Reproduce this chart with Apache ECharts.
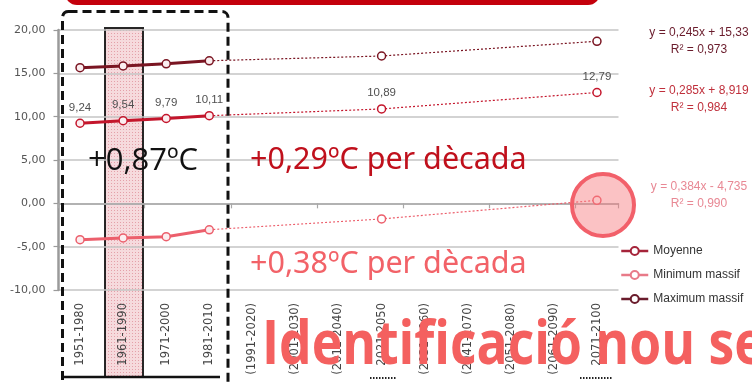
<!DOCTYPE html>
<html>
<head>
<meta charset="utf-8">
<script src="https://cdn.jsdelivr.net/npm/echarts@6/dist/echarts.min.js"></script>
<style>
  html, body { margin: 0; padding: 0; background: #ffffff; }
  #chart { width: 752px; height: 383px; }
</style>
</head>
<body>
<div id="chart"></div>
<script>
// Periods (30-year windows)
const periods = ['1951-1980', '1961-1990', '1971-2000', '1981-2010', '(1991-2020)', '(2001-2030)',
  '(2011-2040)', '2021-2050', '(2031-2060)', '(2041-2070)', '(2051-2080)', '(2061-2090)', '2071-2100'];

// Observed values (first four windows)
const moyenneObs = [9.24, 9.54, 9.79, 10.11];
const minimumObs = [-4.2, -4.0, -3.85, -3.05];
const maximumObs = [15.65, 15.85, 16.1, 16.45];

// Projected values: [index of period, value]
const moyenneProj = [[7, 10.89], [12, 12.79]];
const minimumProj = [[7, -1.8], [12, 0.35]];
const maximumProj = [[7, 17.0], [12, 18.7]];

// Y axis ticks
const yMin = -10, yMax = 20, yStep = 5;

// Trend equations
const equations = [
  ['y = 0,245x + 15,33', 'R² = 0,973'],
  ['y = 0,285x + 8,919', 'R² = 0,984'],
  ['y = 0,384x - 4,735', 'R² = 0,990']
];

const C_MAX = '#7a1522', C_MOY = '#c4162c', C_MIN = '#ec5f6c';
const LEG_MAX = '#6a1c2c', LEG_MOY = '#a5243a', LEG_MIN = '#e87a88';

function fullRow(obs) {
  return periods.map((p, i) => (i < obs.length ? obs[i] : null));
}
function projRow(obs, proj) {
  const row = periods.map(() => null);
  row[obs.length - 1] = obs[obs.length - 1];
  proj.forEach(([i, v]) => { row[i] = v; });
  return row;
}
const fmt = v => v.toFixed(2).replace('.', ',');

function dotPattern() {
  const c = document.createElement('canvas');
  c.width = 3; c.height = 3;
  const g = c.getContext('2d');
  g.fillStyle = 'rgba(246,214,218,1)';
  g.fillRect(0, 0, 3, 3);
  g.fillStyle = 'rgba(226,150,160,1)';
  g.fillRect(0, 0, 1, 1);
  return c;
}

const labelStyle = {
  show: true, position: 'top', distance: 5, color: '#505050',
  fontFamily: 'Liberation Sans', fontSize: 11.5
};

function solidSeries(name, color, obs, withLabels) {
  return {
    name, type: 'line', xAxisIndex: 0, data: fullRow(obs),
    symbol: 'circle', symbolSize: 8, z: 4,
    lineStyle: { color, width: 3 },
    itemStyle: { color: '#fbeef0', borderColor: color, borderWidth: 1.5 },
    label: withLabels ? Object.assign({}, labelStyle, { formatter: p => fmt(p.value) }) : { show: false },
    emphasis: { disabled: true }, animation: false
  };
}
function projSeries(name, color, obs, proj, withLabels) {
  const shown = new Set(proj.map(d => d[0]));
  return {
    name, type: 'line', xAxisIndex: 0, data: projRow(obs, proj), connectNulls: true,
    symbol: 'circle', symbolSize: 8, z: 3,
    showAllSymbol: true,
    lineStyle: { color, width: 1.2, type: [2, 2] },
    itemStyle: { color: '#ffffff', borderColor: color, borderWidth: 1.5 },
    label: withLabels ? Object.assign({}, labelStyle,
      { formatter: p => (shown.has(p.dataIndex) ? fmt(p.value) : '') }) : { show: false },
    emphasis: { disabled: true }, animation: false
  };
}

const chart = echarts.init(document.getElementById('chart'), null, { renderer: 'canvas' });

const series = [
  solidSeries('Moyenne', C_MOY, moyenneObs, true),
  solidSeries('Minimum massif', C_MIN, minimumObs, false),
  solidSeries('Maximum massif', C_MAX, maximumObs, false),
  projSeries('Moyenne', C_MOY, moyenneObs, moyenneProj, true),
  projSeries('Minimum massif', C_MIN, minimumObs, minimumProj, false),
  projSeries('Maximum massif', C_MAX, maximumObs, maximumProj, false)
];
// hide the repeated marker at the junction of solid and dotted parts
series.slice(3).forEach(s => {
  s.data = s.data.map((v, i) => (v === null ? null :
    (i === 3 ? { value: v, symbolSize: 0, label: { show: false } } : v)));
});

const eqColors = [LEG_MAX, '#c0303c', '#e88894'];
const eqY = [27, 85, 181];
const eqGraphics = [];
equations.forEach((eq, k) => {
  eq.forEach((line, j) => {
    eqGraphics.push({
      type: 'text', z: 20,
      style: {
        x: 699, y: eqY[k] + j * 17, text: line, align: 'center',
        fill: eqColors[k], font: '12px "Liberation Sans"'
      }
    });
  });
});

chart.setOption({
  animation: false,
  grid: { left: 58.5, right: 133.5, top: 30, bottom: 93, containLabel: false },
  legend: {
    orient: 'vertical', left: 615, top: 240, itemGap: 12,
    itemWidth: 27, itemHeight: 10,
    data: [
      { name: 'Moyenne', itemStyle: { color: '#fff', borderColor: LEG_MOY }, lineStyle: { color: LEG_MOY, width: 2.5 } },
      { name: 'Minimum massif', itemStyle: { color: '#fff', borderColor: LEG_MIN }, lineStyle: { color: LEG_MIN, width: 2.5 } },
      { name: 'Maximum massif', itemStyle: { color: '#fff', borderColor: LEG_MAX }, lineStyle: { color: LEG_MAX, width: 2.5 } }
    ],
    textStyle: { color: '#333', fontFamily: 'Liberation Sans', fontSize: 12 },
    selectedMode: false
  },
  xAxis: [
    {
      type: 'category', data: periods, position: 'bottom',
      axisLine: { show: false, onZero: false },
      axisTick: { show: false },
      axisLabel: { rotate: 90, margin: 13, color: '#454545', fontFamily: 'DejaVu Sans', fontSize: 11.5, interval: 0 }
    },
    {
      type: 'category', data: periods, position: 'bottom',
      axisLine: { show: true, onZero: true, lineStyle: { color: '#a8a8a8', width: 1.5 } },
      axisTick: { show: true, length: 5, lineStyle: { color: '#a8a8a8', width: 1.2 } },
      axisLabel: { show: false }
    }
  ],
  yAxis: {
    type: 'value', min: yMin, max: yMax, interval: yStep,
    axisLine: { show: true, lineStyle: { color: '#9a9a9a', width: 2.5 } },
    axisTick: { show: true, length: 5, lineStyle: { color: '#9a9a9a', width: 1.2 } },
    axisLabel: { color: '#555', fontFamily: 'DejaVu Sans', fontSize: 11, margin: 13, formatter: v => fmt(v) },
    splitLine: { show: true, lineStyle: { color: '#c4c4c4', width: 1.5 } }
  },
  series,
  graphic: [
    // red banner edge at the top
    { type: 'rect', z: 30, shape: { x: 65, y: -30, width: 535, height: 35, r: 12 }, style: { fill: '#c4000c' } },
    // highlighted reference period
    { type: 'rect', z: -1, shape: { x: 105, y: 28, width: 38, height: 349 },
      style: { fill: { image: dotPattern(), repeat: 'repeat' }, stroke: '#111', lineWidth: 2, opacity: 0.9 } },
    { type: 'line', z: 5, shape: { x1: 63, y1: 377, x2: 220, y2: 377 }, style: { stroke: '#111', lineWidth: 2.5 } },
    // dashed frame around the observed periods
    { type: 'rect', z: 6, shape: { x: 62.5, y: 11.5, width: 165.5, height: 390, r: 6 },
      style: { fill: 'none', stroke: '#111', lineWidth: 3, lineDash: [9, 5] } },
    { type: 'text', z: 10, style: { x: 143, y: 161, text: '+0,87ºC', align: 'center', verticalAlign: 'middle',
      fill: '#111', font: '31px "Open Sans"' } },
    { type: 'text', z: 10, style: { x: 250, y: 160, text: '+0,29ºC per dècada', verticalAlign: 'middle',
      fill: '#c0101c', font: '30.5px "Noto Sans"' } },
    { type: 'text', z: 10, style: { x: 250, y: 264, text: '+0,38ºC per dècada', verticalAlign: 'middle',
      fill: '#f26268', font: '30.5px "Noto Sans"' } },
    // highlight on the last minimum value
    { type: 'circle', z: 8, shape: { cx: 603, cy: 205, r: 31 },
      style: { fill: 'rgba(246,120,124,0.45)', stroke: '#f2606a', lineWidth: 4 } },
    // dotted underlines below the two projected periods
    { type: 'line', z: 10, shape: { x1: 370, y1: 378, x2: 397, y2: 378 }, style: { stroke: '#222', lineWidth: 2, lineDash: [1.5, 1.5] } },
    { type: 'line', z: 10, shape: { x1: 580, y1: 378, x2: 612, y2: 378 }, style: { stroke: '#222', lineWidth: 2, lineDash: [1.5, 1.5] } },
    { type: 'text', z: 40, x: 262, y: 347, scaleX: 0.86,
      style: { x: 0, y: 0, text: 'Identificació nou sector', verticalAlign: 'middle',
        fill: '#f4605f', font: 'bold 60px "Open Sans"' } }
  ].concat(eqGraphics)
});
</script>
</body>
</html>
